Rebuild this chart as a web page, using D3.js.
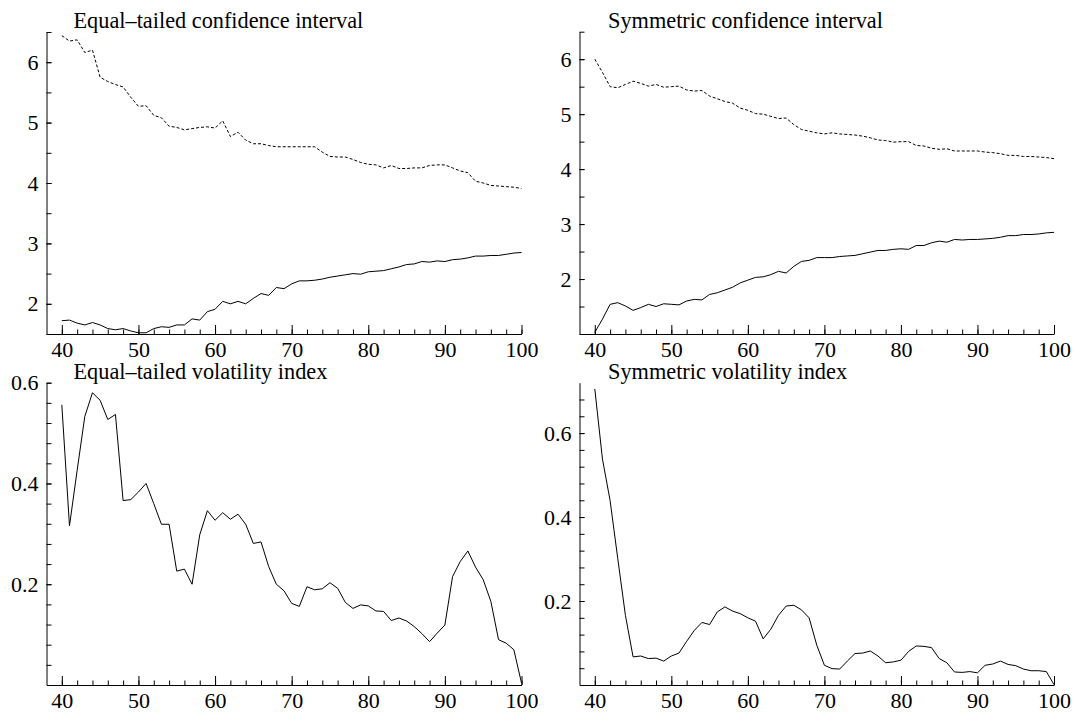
<!DOCTYPE html>
<html>
<head>
<meta charset="utf-8">
<script src="https://cdn.jsdelivr.net/npm/d3@7"></script>
<style>
  body { margin: 0; background: #fff; }
  svg text { font-family: "Liberation Serif", "Times New Roman", serif; fill: #000; }
  .axis path, .axis line { stroke: #000; stroke-width: 1; }
</style>
</head>
<body>
<svg id="chart" width="1074" height="715"></svg>
<script>
// horizon values (x) shared by every panel
const horizons = [40,41,42,43,44,45,46,47,48,49,50,51,52,53,54,55,56,57,58,59,60,
  61,62,63,64,65,66,67,68,69,70,71,72,73,74,75,76,77,78,79,80,
  81,82,83,84,85,86,87,88,89,90,91,92,93,94,95,96,97,98,99,100];

// equal-tailed confidence interval
const etUpper = [6.44,6.35,6.37,6.16,6.2,5.75,5.68,5.63,5.59,5.42,5.27,5.28,5.12,5.08,4.94,4.92,4.88,4.9,4.92,4.93,4.91,
  5.03,4.77,4.84,4.71,4.65,4.65,4.62,4.6,4.6,4.6,4.6,4.6,4.6,4.51,4.44,4.43,4.43,4.39,4.34,4.31,
  4.3,4.25,4.29,4.24,4.24,4.25,4.25,4.29,4.3,4.3,4.25,4.2,4.17,4.03,4.0,3.96,3.95,3.94,3.93,3.91];
const etLower = [1.72,1.73,1.68,1.65,1.69,1.65,1.59,1.57,1.59,1.55,1.52,1.52,1.59,1.62,1.61,1.65,1.65,1.75,1.73,1.87,1.91,
  2.04,2.0,2.04,2.0,2.09,2.17,2.14,2.27,2.25,2.33,2.38,2.38,2.39,2.41,2.44,2.46,2.48,2.5,2.49,2.53,
  2.54,2.55,2.58,2.61,2.65,2.66,2.7,2.69,2.71,2.7,2.73,2.74,2.76,2.79,2.79,2.8,2.8,2.82,2.84,2.85];

// symmetric confidence interval
const symUpper = [6.0,5.76,5.5,5.48,5.54,5.6,5.56,5.51,5.54,5.49,5.5,5.51,5.44,5.42,5.43,5.33,5.28,5.23,5.2,5.11,5.07,
  5.01,5.0,4.96,4.92,4.93,4.81,4.72,4.69,4.66,4.64,4.66,4.64,4.63,4.62,4.6,4.57,4.53,4.52,4.49,4.5,
  4.5,4.43,4.42,4.38,4.36,4.37,4.33,4.33,4.33,4.33,4.31,4.3,4.28,4.25,4.25,4.23,4.23,4.22,4.21,4.19];
const symLower = [1.03,1.27,1.54,1.57,1.51,1.43,1.48,1.54,1.5,1.55,1.54,1.53,1.6,1.63,1.62,1.72,1.75,1.8,1.85,1.93,1.98,
  2.03,2.04,2.08,2.14,2.11,2.23,2.32,2.34,2.39,2.39,2.39,2.41,2.42,2.43,2.46,2.49,2.52,2.52,2.54,2.55,
  2.54,2.61,2.61,2.66,2.69,2.67,2.72,2.71,2.72,2.72,2.73,2.74,2.76,2.79,2.79,2.81,2.81,2.82,2.84,2.85];

// volatility indices
const etVol = [0.556,0.316,0.426,0.533,0.58,0.565,0.527,0.537,0.366,0.368,0.383,0.4,0.36,0.319,0.319,0.226,0.23,0.2,0.298,0.346,0.327,
  0.342,0.329,0.339,0.319,0.281,0.284,0.235,0.2,0.187,0.162,0.156,0.195,0.189,0.191,0.203,0.192,0.164,0.152,0.159,0.157,
  0.147,0.146,0.128,0.133,0.127,0.116,0.102,0.086,0.103,0.119,0.215,0.245,0.266,0.234,0.209,0.166,0.09,0.083,0.07,0.004];
const symVol = [0.705,0.538,0.439,0.301,0.166,0.067,0.069,0.063,0.064,0.057,0.069,0.076,0.104,0.13,0.149,0.144,0.174,0.186,0.176,0.17,0.16,
  0.152,0.11,0.133,0.166,0.188,0.19,0.179,0.16,0.095,0.047,0.039,0.038,0.057,0.075,0.076,0.081,0.069,0.053,0.055,0.059,
  0.08,0.093,0.092,0.089,0.063,0.053,0.031,0.03,0.032,0.029,0.047,0.05,0.057,0.049,0.046,0.038,0.034,0.034,0.032,0.001];

const xTickLabels = [40,50,60,70,80,90,100];
const ciTickLabels = [2,3,4,5,6];
const volTickLabels = [0.2,0.4,0.6];

const panelTitles = ["Equal\u2013tailed confidence interval", "Symmetric confidence interval",
  "Equal\u2013tailed volatility index", "Symmetric volatility index"];

const serif = "'Liberation Serif', 'Times New Roman', serif";
const svg = d3.select("#chart");

const panels = [
  { title: panelTitles[0], left: 46.5, right: 521.5, titleX: 73.5, top: 32, bottom: 334, yDomain: [1.5, 6.5],
    minorY: d3.range(3, 14).map(i => i * 0.5), labels: ciTickLabels, fmt: d3.format("d"),
    series: [{ v: etUpper, dash: "3,2" }, { v: etLower }] },
  { title: panelTitles[1], left: 579.5, right: 1054, titleX: 608, top: 31.7, bottom: 334, yDomain: [1.0, 6.5],
    minorY: d3.range(2, 14).map(i => i * 0.5), labels: ciTickLabels, fmt: d3.format("d"),
    series: [{ v: symUpper, dash: "3,2" }, { v: symLower }] },
  { title: panelTitles[2], left: 46.5, right: 521.5, titleX: 73.5, top: 382.7, bottom: 685, yDomain: [0, 0.6],
    minorY: d3.range(1, 16).map(i => +(i * 0.04).toFixed(2)), labels: volTickLabels, fmt: d3.format(".1f"),
    series: [{ v: etVol }] },
  { title: panelTitles[3], left: 579.5, right: 1054, titleX: 608, top: 382.7, bottom: 685, yDomain: [0, 0.72],
    minorY: d3.range(1, 18).map(i => +(i * 0.04).toFixed(2)), labels: volTickLabels, fmt: d3.format(".1f"),
    series: [{ v: symVol }] }
];

panels.forEach(p => {
  const x = d3.scaleLinear().domain([38, 100]).range([p.left, p.right]);
  const y = d3.scaleLinear().domain(p.yDomain).range([p.bottom, p.top]);
  const g = svg.append("g");

  // x axis: minor ticks every 2, major every 10
  g.append("g")
    .attr("class", "axis")
    .attr("transform", "translate(0," + p.bottom + ")")
    .call(d3.axisBottom(x).tickValues(d3.range(40, 101, 2)).tickSizeInner(-4.5).tickSizeOuter(0).tickFormat(""));
  g.append("g")
    .attr("class", "axis")
    .attr("transform", "translate(0," + p.bottom + ")")
    .call(d3.axisBottom(x).tickValues(xTickLabels).tickSizeInner(-9).tickSizeOuter(0).tickPadding(7))
    .attr("font-family", serif).attr("font-size", 22)
    .call(a => a.select(".domain").remove());

  // y axis
  g.append("g")
    .attr("class", "axis")
    .attr("transform", "translate(" + p.left + ",0)")
    .call(d3.axisLeft(y).tickValues(p.minorY).tickSizeInner(-5).tickSizeOuter(0).tickFormat(""));
  g.append("g")
    .attr("class", "axis")
    .attr("transform", "translate(" + p.left + ",0)")
    .call(d3.axisLeft(y).tickValues(p.labels).tickSizeInner(-5).tickSizeOuter(0).tickPadding(8).tickFormat(p.fmt))
    .attr("font-family", serif).attr("font-size", 22)
    .call(a => a.select(".domain").remove());

  // series
  const line = d3.line()
    .x((d, i) => x(horizons[i]))
    .y(d => y(d))
    .curve(d3.curveLinear);

  p.series.forEach(s => {
    g.append("path")
      .datum(s.v)
      .attr("fill", "none")
      .attr("stroke", "#000")
      .attr("stroke-width", 1)
      .attr("stroke-dasharray", s.dash || null)
      .attr("d", line);
  });

  // title
  g.append("text")
    .attr("x", p.titleX)
    .attr("y", p.top - 4)
    .attr("font-family", serif)
    .attr("font-size", 22.3)
    .text(p.title);
});
</script>
</body>
</html>
